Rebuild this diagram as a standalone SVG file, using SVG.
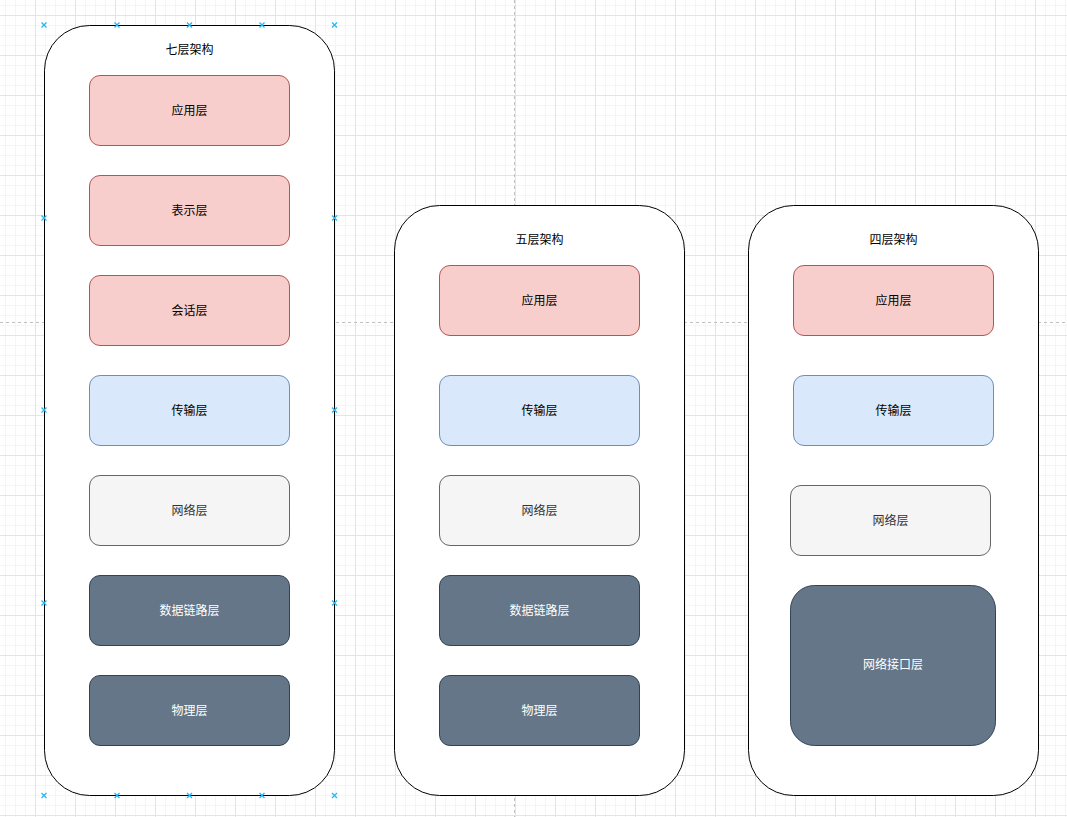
<svg xmlns="http://www.w3.org/2000/svg" width="1067" height="817" viewBox="0 0 1067 817">
<defs>
<pattern id="grid" x="35" y="15" width="40" height="40" patternUnits="userSpaceOnUse">
<path d="M10.5 0V40M20.5 0V40M30.5 0V40M0 10.5H40M0 20.5H40M0 30.5H40" stroke="#f5f5f5" stroke-width="1" fill="none"/>
<path d="M0.5 0V40M0 0.5H40" stroke="#e4e4e4" stroke-width="1" fill="none"/>
</pattern>
<g id="hx"><path d="M-2.5 -2.5L2.5 2.5M-2.5 2.5L2.5 -2.5" stroke="#29b6f2" stroke-width="1.3"/></g>
</defs>
<style>
text{font-family:"Noto Sans CJK SC","Liberation Sans",sans-serif;font-size:12px;text-anchor:middle;dominant-baseline:central}
.cont{fill:#ffffff;stroke:#000000;stroke-width:1}
.red{fill:#f8cecc;stroke:#b85450}
.blue{fill:#dae8fc;stroke:#6c8ebf}
.gray{fill:#f5f5f5;stroke:#666666}
.dark{fill:#647687;stroke:#314354}
.tdark{fill:#ffffff}
.tgray{fill:#333333}
.tblk{fill:#000000}
</style>
<rect width="1067" height="817" fill="#ffffff"/>
<rect width="1067" height="817" fill="url(#grid)"/>
<path d="M514.5 0V817M0 322.5H1067" stroke="#c0c0c0" stroke-dasharray="3 3" fill="none"/>

<g id="c7">
<rect class="cont" x="44.5" y="25.5" width="290" height="770" rx="45" ry="45"/>
<text class="tblk" x="189.5" y="48.5">七层架构</text>
</g>
<g id="c7-app"><rect class="red" x="89.5" y="75.5" width="200" height="70" rx="10.5"/><text class="tblk" x="189.5" y="109">应用层</text></g>
<g id="c7-pres"><rect class="red" x="89.5" y="175.5" width="200" height="70" rx="10.5"/><text class="tblk" x="189.5" y="209">表示层</text></g>
<g id="c7-sess"><rect class="red" x="89.5" y="275.5" width="200" height="70" rx="10.5"/><text class="tblk" x="189.5" y="309">会话层</text></g>
<g id="c7-trans"><rect class="blue" x="89.5" y="375.5" width="200" height="70" rx="10.5"/><text class="tblk" x="189.5" y="409">传输层</text></g>
<g id="c7-net"><rect class="gray" x="89.5" y="475.5" width="200" height="70" rx="10.5"/><text class="tgray" x="189.5" y="509">网络层</text></g>
<g id="c7-link"><rect class="dark" x="89.5" y="575.5" width="200" height="70" rx="10.5"/><text class="tdark" x="189.5" y="609">数据链路层</text></g>
<g id="c7-phy"><rect class="dark" x="89.5" y="675.5" width="200" height="70" rx="10.5"/><text class="tdark" x="189.5" y="709">物理层</text></g>

<g id="c5">
<rect class="cont" x="394.5" y="205.5" width="290" height="590" rx="45" ry="45"/>
<text class="tblk" x="539.5" y="238.5">五层架构</text>
</g>
<g id="c5-app"><rect class="red" x="439.5" y="265.5" width="200" height="70" rx="10.5"/><text class="tblk" x="539.5" y="299">应用层</text></g>
<g id="c5-trans"><rect class="blue" x="439.5" y="375.5" width="200" height="70" rx="10.5"/><text class="tblk" x="539.5" y="409">传输层</text></g>
<g id="c5-net"><rect class="gray" x="439.5" y="475.5" width="200" height="70" rx="10.5"/><text class="tgray" x="539.5" y="509">网络层</text></g>
<g id="c5-link"><rect class="dark" x="439.5" y="575.5" width="200" height="70" rx="10.5"/><text class="tdark" x="539.5" y="609">数据链路层</text></g>
<g id="c5-phy"><rect class="dark" x="439.5" y="675.5" width="200" height="70" rx="10.5"/><text class="tdark" x="539.5" y="709">物理层</text></g>

<g id="c4">
<rect class="cont" x="748.5" y="205.5" width="290" height="590" rx="45" ry="45"/>
<text class="tblk" x="893.5" y="238.5">四层架构</text>
</g>
<g id="c4-app"><rect class="red" x="793.5" y="265.5" width="200" height="70" rx="10.5"/><text class="tblk" x="893.5" y="299">应用层</text></g>
<g id="c4-trans"><rect class="blue" x="793.5" y="375.5" width="200" height="70" rx="10.5"/><text class="tblk" x="893.5" y="409">传输层</text></g>
<g id="c4-net"><rect class="gray" x="790.5" y="485.5" width="200" height="70" rx="10.5"/><text class="tgray" x="890.5" y="519">网络层</text></g>
<g id="c4-if"><rect class="dark" x="790.5" y="585.5" width="205" height="160" rx="24"/><text class="tdark" x="893" y="663.5">网络接口层</text></g>

<g id="connectors"></g>

<g id="handles">
<use href="#hx" x="44" y="25"/><use href="#hx" x="117" y="25"/><use href="#hx" x="189.5" y="25"/><use href="#hx" x="262" y="25"/><use href="#hx" x="334.5" y="25"/>
<use href="#hx" x="44" y="795.5"/><use href="#hx" x="117" y="795.5"/><use href="#hx" x="189.5" y="795.5"/><use href="#hx" x="262" y="795.5"/><use href="#hx" x="334.5" y="795.5"/>
<use href="#hx" x="44" y="218"/><use href="#hx" x="44" y="410"/><use href="#hx" x="44" y="603"/>
<use href="#hx" x="334.5" y="218"/><use href="#hx" x="334.5" y="410"/><use href="#hx" x="334.5" y="603"/>
</g>
</svg>
